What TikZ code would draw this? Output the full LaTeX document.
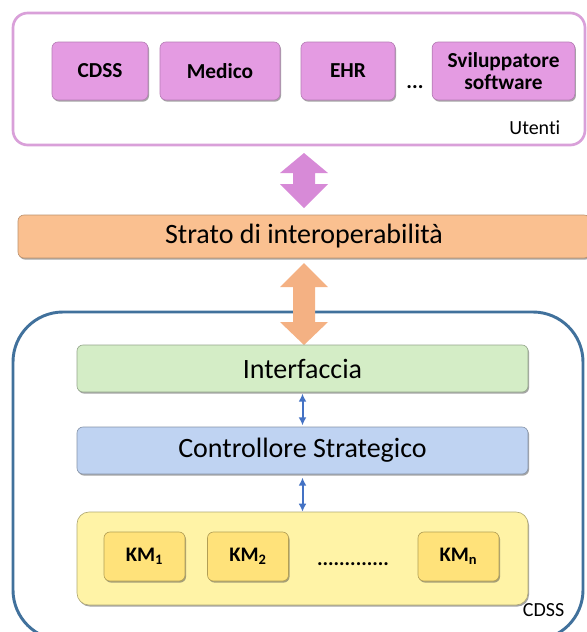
\documentclass[tikz,border=0pt]{standalone}
\usepackage{fontspec}
\setmainfont{Carlito}[Ligatures=NoCommon]
\usetikzlibrary{shadows, arrows.meta}

\definecolor{utentiline}{HTML}{D9A0D9}
\definecolor{pinkbox}{HTML}{E49BE2}
\definecolor{pinkarrow}{HTML}{D78AD7}
\definecolor{stratofill}{HTML}{FAC090}
\definecolor{orangearrow}{HTML}{F4B183}
\definecolor{cdssline}{HTML}{41719C}
\definecolor{ifacefill}{HTML}{D4EDC6}
\definecolor{ctrlfill}{HTML}{BFD3F2}
\definecolor{kbfill}{HTML}{FFF3A6}
\definecolor{kmfill}{HTML}{FFE27A}
\definecolor{linkblue}{HTML}{4472C4}

\tikzset{
  bevel/.style={rounded corners=4.5pt,
    drop shadow={shadow xshift=0.8pt, shadow yshift=-1.2pt, opacity=.5, fill=black!70}},
  userbox/.style={bevel, fill=pinkbox, draw=pinkbox!80!black, line width=0.5pt,
    minimum height=43.5pt, align=center, font=\fontsize{16}{17}\selectfont\bfseries},
  layer/.style={bevel, minimum width=338.25pt, minimum height=35.25pt,
    line width=0.5pt, font=\fontsize{21}{24}\selectfont},
  kmbox/.style={bevel, fill=kmfill, draw=kmfill!70!black, line width=0.5pt,
    minimum width=60.75pt, minimum height=36.75pt, font=\fontsize{15.5}{17}\selectfont\bfseries},
  link/.style={<->, >={Latex[length=6pt, width=6pt]}, draw=linkblue, line width=1.5pt},
  caption/.style={font=\fontsize{15}{17}\selectfont, anchor=east}
}

\begin{document}
\begin{tikzpicture}[x=0.75pt, y=-0.75pt]
  \useasboundingbox (0,0) rectangle (586,632);

  % utenti
  \node[draw=utentiline, line width=2pt, rounded corners=11pt, fill=white,
        minimum width=429pt, minimum height=99pt] (utenti) at (299,79) {};
  \node[userbox, minimum width=72pt] (cdss) at (100,71) {CDSS};
  \node[userbox, minimum width=90pt] (medico) at (220,71) {Medico};
  \node[userbox, minimum width=70.5pt] (ehr) at (348,71) {EHR};
  \node[userbox, minimum width=107pt, inner sep=1pt] (dev) at (503.5,71) {Sviluppatore\\[-1pt]software};
  \node[font=\fontsize{16}{17}\selectfont\bfseries] (udots) at (415,87) {...};
  \node[caption] (ulabel) at (565,128) {Utenti};

  % strato di interoperabilita
  \node[bevel, fill=stratofill, draw=stratofill!75!black, line width=0.5pt,
        minimum width=429pt, minimum height=32.25pt,
        font=\fontsize{21}{24}\selectfont] (strato) at (304,236.5) {Strato di interoperabilità};

  % block arrows
  \fill[pinkarrow] (304,153) -- (328,173) -- (315,173) -- (315,184) -- (328,184)
    -- (304,208) -- (280,184) -- (293,184) -- (293,173) -- (280,173) -- cycle;

  % cdss
  \node[draw=cdssline, line width=2.2pt, rounded corners=37.5pt, fill=white,
        minimum width=427.5pt, minimum height=246pt] (sys) at (298,476) {};

  \fill[orangearrow] (304,263) -- (328,287) -- (315,287) -- (315,322) -- (328,322)
    -- (304,345) -- (280,322) -- (293,322) -- (293,287) -- (280,287) -- cycle;

  \node[layer, fill=ifacefill, draw=ifacefill!70!black] (iface) at (302.5,368.5) {Interfaccia};
  \node[layer, fill=ctrlfill, draw=ctrlfill!70!black] (ctrl) at (302.5,450.5) {Controllore Strategico};
  \node[bevel, fill=kbfill, draw=kbfill!70!black, line width=0.5pt, rounded corners=9pt,
        minimum width=338.25pt, minimum height=69.75pt] (kb) at (302.5,558.5) {};

  \node[kmbox] (km1) at (144.5,556.5) {KM\textsubscript{1}};
  \node[kmbox] (km2) at (248,556.5) {KM\textsubscript{2}};
  \node[kmbox] (kmn) at (458.5,556.5) {KM\textsubscript{n}};
  \node[font=\fontsize{15.5}{17}\selectfont\bfseries] (kdots) at (353,564) {.............};
  \node[caption] (slabel) at (569,610) {CDSS};

  \draw[link] ([yshift=-1pt]iface.south) -- ([yshift=1pt]ctrl.north);
  \draw[link] ([yshift=-2.5pt]ctrl.south) -- (kb.north);
\end{tikzpicture}
\end{document}
